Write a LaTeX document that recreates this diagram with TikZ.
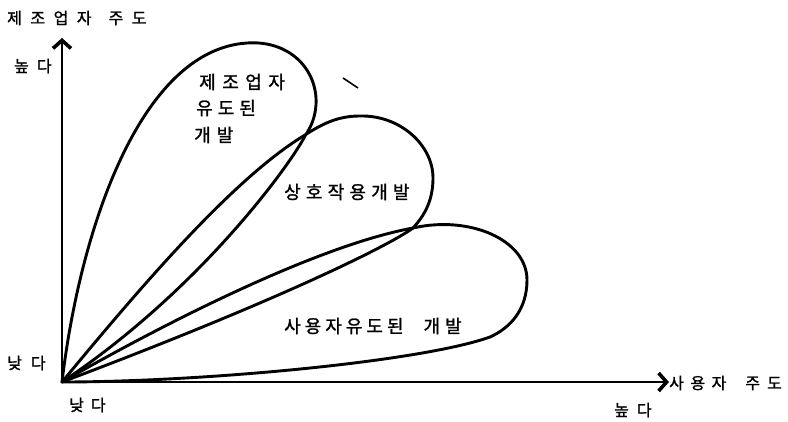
\documentclass[tikz,border=0pt]{standalone}
\usepackage{fontspec}
\newfontfamily\kr[RawFeature={embolden=1.3}]{Noto Sans CJK KR}
\usetikzlibrary{arrows.meta}
\tikzset{
  curve/.style={line width=2.9pt, line join=round, line cap=round},
  axis/.style={line width=2.2pt},
  tip/.style={-{Straight Barb[length=8pt,width=18pt,line width=3.6pt]}},
  lbl/.style={font=\kr\fontsize{16}{18}\selectfont, inner sep=0pt},
  inlbl/.style={font=\kr\fontsize{18}{20}\selectfont, inner sep=0pt},
}
\begin{document}
\begin{tikzpicture}[x=1pt,y=-1pt]
\useasboundingbox (0,0) rectangle (788,421);
\coordinate (O) at (62,382);
\coordinate (ytop) at (62,38);
\coordinate (xend) at (669,382);
% axes
\draw[axis,tip] (O) -- (ytop);
\draw[axis,tip] (O) -- (xend);
% manufacturer-led loop
\draw[curve] (O) .. controls (80,230) and (140,50) .. (247,43)
  .. controls (290,40) and (318,70) .. (316,105)
  .. controls (315,118) and (311,127) .. (305,136)
  .. controls (290,165) and (200,290) .. (O);
% interaction loop
\draw[curve] (O) .. controls (130,300) and (230,180) .. (305,135)
  .. controls (325,122) and (340,116) .. (360,116)
  .. controls (400,115) and (433,145) .. (433,178)
  .. controls (433,200) and (425,215) .. (413,228)
  .. controls (390,245) and (280,300) .. (O);
% user-led loop
\draw[curve] (O) .. controls (170,320) and (320,245) .. (413,228)
  .. controls (470,215) and (527,240) .. (527,280)
  .. controls (527,310) and (510,328) .. (490,337)
  .. controls (420,362) and (200,382) .. (O);
% stray mark
\coordinate (m1) at (343,78);
\coordinate (m2) at (358,88);
\draw[line width=1.6pt] (m1) -- (m2);
% labels
\node[lbl, anchor=west] (ttl) at (7,18) {제\kern8.5pt 조\kern8.5pt 업\kern8.5pt 자\kern17pt 주\kern8.5pt 도};
\node[lbl, anchor=west] (yhi) at (14,66) {높\kern8pt 다};
\node[lbl, anchor=west] (ylo) at (7,363) {낮\kern9pt 다};
\node[lbl, anchor=west] (xlo) at (69,405) {낮\kern7pt 다};
\node[lbl, anchor=west] (xhi) at (614,410) {높\kern8pt 다};
\node[lbl, anchor=west] (xttl) at (669,383) {사\kern6.5pt 용\kern6.5pt 자\kern19pt 주\kern7pt 도};
\node[inlbl, anchor=west] (m1a) at (199,82) {제\kern6.5pt 조\kern6.5pt 업\kern6.5pt 자};
\node[inlbl, anchor=west] (m1b) at (196,108) {유\kern5pt 도\kern5pt 된};
\node[inlbl, anchor=west] (m1c) at (194,135) {개\kern6pt 발};
\node[inlbl, anchor=west] (m2l) at (284,192) {상\kern5.2pt 호\kern5.2pt 작\kern5.2pt 용\kern5.2pt 개\kern5.2pt 발};
\node[inlbl, anchor=west] (m3l) at (284,326) {사\kern4pt 용\kern4pt 자\kern4pt 유\kern4pt 도\kern4pt 된\kern20pt 개\kern5pt 발};
\end{tikzpicture}
\end{document}
